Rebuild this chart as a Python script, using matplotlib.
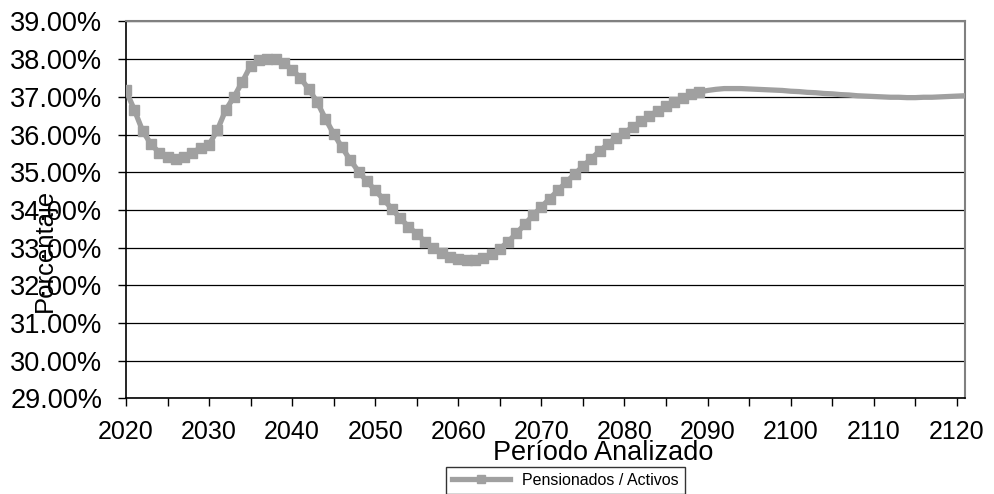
import numpy as np
import matplotlib
matplotlib.use("Agg")
import matplotlib.pyplot as plt
from matplotlib.ticker import MultipleLocator, FuncFormatter

plt.rcParams['font.family'] = ['Liberation Sans', 'DejaVu Sans']

# Serie anual: relación pensionados / activos (%)
anios = list(range(2020, 2122))
pensionados_activos = [
    37.17, 36.66, 36.10, 35.75, 35.52, 35.40, 35.35, 35.40, 35.52, 35.65,
    35.73, 36.12, 36.65, 37.00, 37.40, 37.82, 37.98, 38.01, 38.00, 37.90,
    37.72, 37.50, 37.20, 36.87, 36.42, 36.02, 35.66, 35.32, 35.02, 34.76,
    34.52, 34.28, 34.03, 33.78, 33.56, 33.36, 33.16, 32.99, 32.86, 32.76,
    32.70, 32.67, 32.67, 32.72, 32.82, 32.97, 33.16, 33.38, 33.62, 33.86,
    34.08, 34.30, 34.52, 34.74, 34.95, 35.16, 35.36, 35.56, 35.75, 35.92,
    36.05, 36.20, 36.35, 36.50, 36.63, 36.75, 36.87, 36.98, 37.07, 37.13,
    37.17, 37.20, 37.22, 37.22, 37.22, 37.21, 37.20, 37.19, 37.18, 37.17,
    37.15, 37.14, 37.12, 37.11, 37.09, 37.08, 37.06, 37.05, 37.03, 37.02,
    37.01, 37.00, 36.99, 36.99, 36.98, 36.98, 36.99, 36.99, 37.00, 37.01,
    37.02, 37.03,
]
serie_nombre = "Pensionados / Activos"
n_con_marcador = 70  # los marcadores solo aparecen hasta ~2089

fig = plt.figure(figsize=(9.95, 4.94), dpi=100)
ax = fig.add_axes([0.1266, 0.1935, 0.8434, 0.763])

gris = '#a0a0a0'
ax.plot(anios, pensionados_activos, color=gris, lw=3.8,
        marker='s', markersize=7, markevery=list(range(n_con_marcador)),
        markerfacecolor=gris, markeredgecolor=gris, label=serie_nombre,
        solid_joinstyle='round', zorder=3)

ax.set_xlim(2020, 2121)
ax.set_ylim(29, 39)
ax.yaxis.set_major_locator(MultipleLocator(1))
ax.yaxis.set_major_formatter(FuncFormatter(lambda v, p: f"{v:.2f}%"))
ax.xaxis.set_major_locator(MultipleLocator(10))
ax.xaxis.set_minor_locator(MultipleLocator(5))
ax.grid(axis='y', color='black', lw=0.9, zorder=1)

ax.tick_params(axis='both', which='both', direction='out', length=6, width=1,
               color='black')
ax.tick_params(axis='y', pad=11, labelsize=19.5)
ax.tick_params(axis='x', pad=9.5, labelsize=18)

for s in ['left', 'bottom']:
    ax.spines[s].set_color('black')
    ax.spines[s].set_linewidth(1.2)
for s in ['top', 'right']:
    ax.spines[s].set_color('#808080')
    ax.spines[s].set_linewidth(1.5)

fig.text(45 / 995, 1 - 250 / 494, "Porcentaje", rotation=90,
         ha='center', va='center', fontsize=18.5)
fig.text(603 / 995, 1 - 460 / 494, "Período Analizado",
         ha='center', va='baseline', fontsize=19.5)

leg = fig.legend(loc='upper center', bbox_to_anchor=(0.5683, 0.054),
                 fontsize=11.5, frameon=True, fancybox=False,
                 edgecolor='black', borderaxespad=0, borderpad=0.35,
                 handlelength=3.6, markerscale=0.75)
leg.get_frame().set_linewidth(1.0)

fig.savefig("out.png", dpi=100)
